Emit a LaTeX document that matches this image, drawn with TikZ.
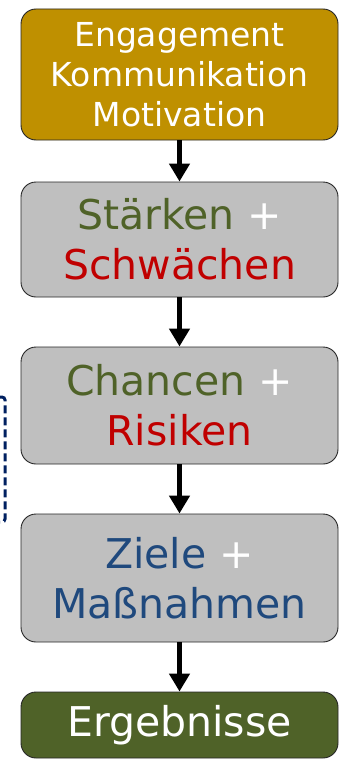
\documentclass[tikz,border=0pt]{standalone}
\usepackage{fontspec}
\setmainfont{DejaVu Sans}
\usetikzlibrary{arrows.meta}
\definecolor{goldfill}{HTML}{BF9000}
\definecolor{greyfill}{HTML}{BFBFBF}
\definecolor{olivefill}{HTML}{4F6228}
\definecolor{txtgreen}{HTML}{4F6228}
\definecolor{txtred}{HTML}{C00000}
\definecolor{txtblue}{HTML}{1F497D}
\definecolor{navyline}{HTML}{002060}
\tikzset{
  box/.style={draw=black!85, line width=0.9pt, rounded corners=15pt, minimum width=317pt, align=center, inner sep=0pt},
  bigtext/.style={font=\fontsize{41}{50}\selectfont},
  arr/.style={line width=5pt, -{Triangle[width=20pt,length=18pt]}},
  bracket/.style={draw=navyline, line width=3pt, dash pattern=on 8pt off 4pt, rounded corners=3pt}
}
\begin{document}
\begin{tikzpicture}[x=1pt,y=-1pt]
\useasboundingbox (0,0) rectangle (341,760);
\node[box, fill=goldfill, minimum height=131pt, text=white, font=\fontsize{33}{40}\selectfont] (b1) at (179.5,74.5) {Engagement\\Kommunikation\\Motivation};
\node[box, fill=greyfill, minimum height=115pt, bigtext] (b2) at (179.5,239.5) {\textcolor{txtgreen}{Stärken} \textcolor{white}{+}\\\textcolor{txtred}{Schwächen}};
\node[box, fill=greyfill, minimum height=117pt, bigtext] (b3) at (179.5,405.5) {\textcolor{txtgreen}{Chancen} \textcolor{white}{+}\\\textcolor{txtred}{Risiken}};
\node[box, fill=greyfill, minimum height=128pt, bigtext] (b4) at (179.5,578) {\textcolor{txtblue}{Ziele} \textcolor{white}{+}\\\textcolor{txtblue}{Maßnahmen}};
\node[box, fill=olivefill, minimum height=66pt, bigtext, text=white] (b5) at (179.5,725) {Ergebnisse};
\draw[arr] (b1.south) -- (b2.north);
\draw[arr] (b2.south) -- (b3.north);
\draw[arr] (b3.south) -- (b4.north);
\draw[arr] (b4.south) -- (b5.north);
\coordinate (k1) at (0,397);
\coordinate (k2) at (5,397);
\coordinate (k3) at (5,522);
\coordinate (k4) at (0,522);
\draw[bracket] (k1) -- (k2) -- (k3) -- (k4);
\end{tikzpicture}
\end{document}
